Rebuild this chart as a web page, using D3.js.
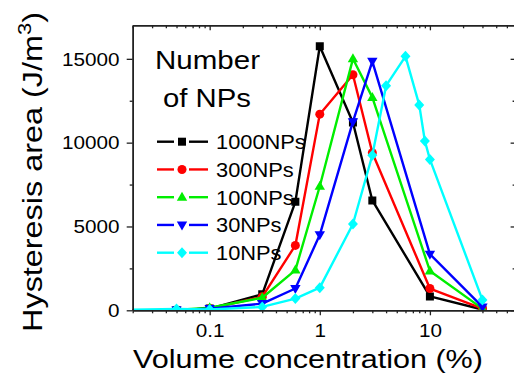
<!DOCTYPE html>
<html><head><meta charset="utf-8">
<script src="https://cdn.jsdelivr.net/npm/d3@7"></script>
<style>
html,body{margin:0;padding:0;background:#fff;}
svg{display:block;font-family:"Liberation Sans",Arial,sans-serif;}
</style></head>
<body>
<svg id="chart" width="514" height="378"></svg>
<script>
// ---- data ----
const conc = [0.01, 0.05, 0.1, 0.3, 0.6, 1, 2, 3, 10, 30];
const concCyan = [0.01, 0.05, 0.1, 0.3, 0.6, 1, 2, 3, 4, 6, 8, 9, 10, 30];
const np1000 = [0, 20, 100, 950, 6470, 15750, 11200, 6550, 830, 50];
const np300  = [0, 20, 100, 800, 3870, 11700, 14050, 9400, 1300, 100];
const np100  = [0, 20, 150, 750, 2400, 7400, 15000, 12700, 2350, 100];
const np30   = [0, 20, 100, 400, 1300, 4500, 11250, 14850, 3350, 200];
const np10   = [0, 80, 50, 200, 700, 1350, 5150, 9250, 13400, 15150, 12250, 10100, 9000, 620];
const seriesNames = ["1000NPs", "300NPs", "100NPs", "30NPs", "10NPs"];
const yTicks = [0, 5000, 10000, 15000];
const xTickLabels = ["0.1", "1", "10"];
const xTickValues = [0.1, 1, 10];

const series = [
  {name: seriesNames[0], xs: conc, ys: np1000, color: "#000000", sym: "square"},
  {name: seriesNames[1], xs: conc, ys: np300,  color: "#ff0000", sym: "circle"},
  {name: seriesNames[2], xs: conc, ys: np100,  color: "#00ee00", sym: "up"},
  {name: seriesNames[3], xs: conc, ys: np30,   color: "#0000ff", sym: "down"},
  {name: seriesNames[4], xs: concCyan, ys: np10, color: "#00ffff", sym: "diamond"}
];

(function () {
const L = 132.7, R = 515.6, T = 25.3, B = 310.3;
const svg = d3.select("#chart");
const x = d3.scaleLog().domain([0.02, 60]).range([L, R]);
const y = d3.scaleLinear().domain([0, 17000]).range([B, T]);

svg.append("defs").append("clipPath").attr("id", "clip")
  .append("rect").attr("x", L).attr("y", T - 10).attr("width", R - L).attr("height", B - T + 10);

const axisColor = "#222";

function symPath(sym) {
  switch (sym) {
    case "square": return "M-4,-4H4V4H-4Z";
    case "circle": return d3.symbol(d3.symbolCircle, 64)();
    case "up": return "M0,-5.5L5.2,3.5L-5.2,3.5Z";
    case "down": return "M0,5.5L5.2,-3.5L-5.2,-3.5Z";
    case "diamond": return "M0,-5.5L5,0L0,5.5L-5,0Z";
  }
}

const plot = svg.append("g").attr("clip-path", "url(#clip)");
const line = d3.line().x(d => x(d[0])).y(d => y(d[1]));
series.forEach(s => {
  const pts = s.xs.map((v, i) => [v, s.ys[i]]);
  plot.append("path").datum(pts).attr("d", line)
    .attr("fill", "none").attr("stroke", s.color).attr("stroke-width", 2.4)
    .attr("stroke-linejoin", "round");
  plot.selectAll(null).data(pts).enter().append("path")
    .attr("transform", d => `translate(${x(d[0])},${y(d[1])})`)
    .attr("d", symPath(s.sym)).attr("fill", s.color);
});

const minorX = [];
for (let e = -2; e <= 1; e++) for (let m = 2; m <= 9; m++) {
  const v = m * Math.pow(10, e);
  if (v >= 0.02 && v <= 60) minorX.push(v);
}
const minorY = [2500, 7500, 12500];

const gBottom = svg.append("g").attr("transform", `translate(0,${B})`)
  .call(d3.axisBottom(x).tickValues(xTickValues).tickFormat((d, i) => xTickLabels[i]).tickSizeInner(5).tickSizeOuter(0));
svg.append("g").attr("transform", `translate(0,${T})`)
  .call(d3.axisTop(x).tickValues(xTickValues).tickFormat("").tickSizeInner(-5).tickSizeOuter(0));
const gLeft = svg.append("g").attr("transform", `translate(${L},0)`)
  .call(d3.axisLeft(y).tickValues(yTicks).tickFormat(d3.format("d")).tickSizeInner(6).tickSizeOuter(0));
svg.append("g").attr("transform", `translate(${R},0)`)
  .call(d3.axisRight(y).tickValues(yTicks).tickFormat("").tickSizeInner(-5).tickSizeOuter(0));
svg.append("g").attr("transform", `translate(0,${B})`)
  .call(d3.axisBottom(x).tickValues(minorX).tickFormat("").tickSizeInner(3).tickSizeOuter(0));
svg.append("g").attr("transform", `translate(0,${T})`)
  .call(d3.axisTop(x).tickValues(minorX).tickFormat("").tickSizeInner(-3).tickSizeOuter(0));
svg.append("g").attr("transform", `translate(${L},0)`)
  .call(d3.axisLeft(y).tickValues(minorY).tickFormat("").tickSizeInner(3).tickSizeOuter(0));
svg.append("g").attr("transform", `translate(${R},0)`)
  .call(d3.axisRight(y).tickValues(minorY).tickFormat("").tickSizeInner(-3).tickSizeOuter(0));

svg.selectAll(".domain").attr("stroke", axisColor).attr("stroke-width", 1.5);
svg.selectAll(".tick line").attr("stroke", axisColor).attr("stroke-width", 1.3);

const tickSx = 1.15;
gBottom.selectAll(".tick text")
  .attr("font-size", 18).attr("font-family", "Liberation Sans, Arial, sans-serif")
  .attr("fill", "#000").attr("y", 26.4).attr("dy", 0)
  .attr("transform", `scale(${tickSx},1)`);
gLeft.selectAll(".tick text")
  .attr("font-size", 18).attr("font-family", "Liberation Sans, Arial, sans-serif")
  .attr("fill", "#000").attr("x", -13.2 / tickSx).attr("dy", "0.35em")
  .attr("transform", `scale(${tickSx},1)`);

function fitText(g, str, size, target, anchor) {
  const t = g.append("text").attr("font-size", size).attr("fill", "#000")
    .attr("text-anchor", anchor || "start").text(str);
  const w = t.node().getComputedTextLength();
  t.attr("transform", `scale(${target / w},1)`);
  return t;
}

const xl = svg.append("g").attr("transform", "translate(308,368)");
fitText(xl, "Volume concentration (%)", 25, 350, "middle");

const yl = svg.append("g").attr("transform", "translate(42,172) rotate(-90)");
const ylt = yl.append("text").attr("font-size", 28).attr("text-anchor", "middle").attr("fill", "#000");
ylt.append("tspan").text("Hysteresis area (J/m");
ylt.append("tspan").attr("font-size", 19).attr("dy", -11).text("3");
ylt.append("tspan").attr("dy", 11).text(")");
{
  const w = ylt.node().getBBox().width;
  ylt.attr("transform", `scale(${320 / w},1)`);
}

fitText(svg.append("g").attr("transform", "translate(155,69)"), "Number", 25, 105);
fitText(svg.append("g").attr("transform", "translate(163,106.5)"), "of NPs", 25, 88);

const legY0 = 141.7, legDy = 27.75;
series.forEach((s, i) => {
  const g = svg.append("g").attr("transform", `translate(0,${legY0 + legDy * i})`);
  g.append("line").attr("x1", 157).attr("x2", 174).attr("y1", 0).attr("y2", 0)
    .attr("stroke", s.color).attr("stroke-width", 2.4);
  g.append("line").attr("x1", 189).attr("x2", 208).attr("y1", 0).attr("y2", 0)
    .attr("stroke", s.color).attr("stroke-width", 2.4);
  g.append("path").attr("transform", "translate(182,0)").attr("d", symPath(s.sym)).attr("fill", s.color);
  const tg = g.append("g").attr("transform", "translate(216,7.5)");
  tg.append("text").attr("font-size", 21).attr("fill", "#000").text(s.name)
    .attr("transform", "scale(1.04,1)");
});
})();
</script>
</body></html>
